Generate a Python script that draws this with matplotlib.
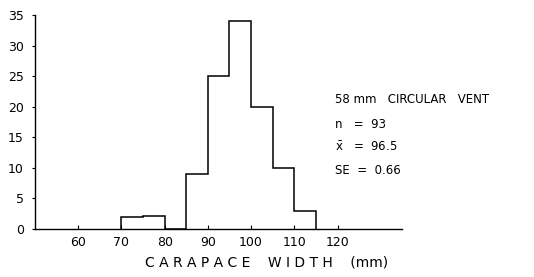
import matplotlib
matplotlib.use("Agg")
import matplotlib.pyplot as plt
import numpy as np

bin_edges = [70, 75, 80, 85, 90, 95, 100, 105, 110, 115]
counts = [2, 2.2, 0, 9, 25, 34, 20, 10, 3]
xticks = [60, 70, 80, 90, 100, 110, 120]
yticks = [0, 5, 10, 15, 20, 25, 30, 35]
stats_lines = ["58 mm   CIRCULAR   VENT", "n   =  93", r"$\bar{\mathrm{x}}$   =  96.5", "SE  =  0.66"]

fig = plt.figure(figsize=(5.34, 2.77), dpi=100)
ax = fig.add_axes([0.0655, 0.173, 0.688, 0.773])
ax.stairs(counts, bin_edges, color="black", linewidth=1.1, baseline=0)
ax.set_xlim(50, 135)
ax.set_ylim(0, 35)
ax.set_xticks(xticks)
ax.set_yticks(yticks)
ax.set_xticklabels([str(v) for v in xticks], fontsize=9)
ax.set_yticklabels([str(v) for v in yticks], fontsize=9)
ax.tick_params(axis="x", direction="in", length=3, pad=5)
ax.tick_params(axis="y", direction="out", length=2, pad=6)
for s in ["top", "right"]:
    ax.spines[s].set_visible(False)
ax.spines["left"].set_linewidth(1.0)
ax.spines["bottom"].set_linewidth(1.0)
ax.set_xlabel("C A R A P A C E    W I D T H    (mm)", fontsize=10)
ax.xaxis.set_label_coords(0.63, -0.125)

ys = [0.64, 0.55, 0.47, 0.385]
for t, yy in zip(stats_lines, ys):
    fig.text(0.628, yy, t, fontsize=8.5, ha="left", va="center")

fig.savefig("out.png", dpi=100)
